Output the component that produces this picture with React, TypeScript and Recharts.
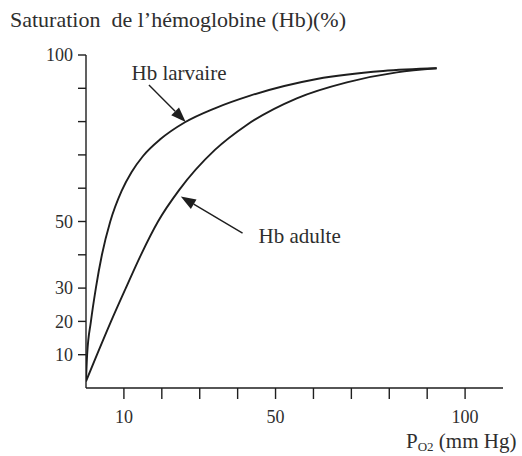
import React from 'react';
import { LineChart, Line, XAxis, YAxis, ReferenceLine, ReferenceDot } from 'recharts';

// PO2 (mm Hg) and saturation (%)
const po2Larvaire = [0, 0.3, 1.3, 2.6, 4.2, 6.4, 9.4, 12, 15, 19.5, 26.1, 34, 43.3, 60.9, 78.4, 92.5];
const satLarvaire = [2, 10, 20, 30, 40, 50, 59.2, 64.8, 69.6, 74.6, 79.8, 84, 87.8, 92.8, 95.2, 96];

const po2Adulte = [0, 2.9, 6.6, 10.5, 14.5, 19, 24.6, 34, 42.4, 55.6, 68.8, 82, 92.5];
const satAdulte = [2, 10, 20, 30, 40, 50, 59.5, 71.5, 79, 87, 91.8, 94.8, 96];

const xTicks = [10, 20, 30, 40, 50, 60, 70, 80, 90, 100];
const xLabels = [10, 50, 100];
const yTicks = [10, 20, 30, 40, 50, 60, 70, 80, 90, 100];
const yLabels = [10, 20, 30, 50, 100];

const larvaire = po2Larvaire.map((x, i) => ({ x, y: satLarvaire[i] }));
const adulte = po2Adulte.map((x, i) => ({ x, y: satAdulte[i] }));

const INK = '#1e1e1e';
const TEXT = '#2e2e2e';
const FONT = '"Liberation Serif", "Times New Roman", serif';

function Arrow(props: any) {
  const { x1, y1, x2, y2 } = props;
  const ang = Math.atan2(y2 - y1, x2 - x1);
  const len = 15;
  const half = 5.5;
  const bx = x2 - len * Math.cos(ang);
  const by = y2 - len * Math.sin(ang);
  const px = -Math.sin(ang) * half;
  const py = Math.cos(ang) * half;
  return (
    <g>
      <line x1={x1} y1={y1} x2={bx} y2={by} stroke={INK} strokeWidth={1.4} />
      <polygon points={`${x2},${y2} ${bx + px},${by + py} ${bx - px},${by - py}`} fill={INK} />
    </g>
  );
}

const textShape = (label: string) => (p: any) => (
  <text x={p.cx} y={p.cy} fontSize={21} fontFamily={FONT} fill={TEXT}>
    {label}
  </text>
);

export default function App() {
  return (
    <div style={{ position: 'absolute', left: 0, top: 0, width: 522, height: 456, background: '#fff' }}>
      <div
        style={{
          position: 'absolute', left: 10, top: 8, fontFamily: FONT, fontSize: 22,
          color: TEXT, whiteSpace: 'pre', lineHeight: '24px',
        }}
      >
        {'Saturation  de l\u2019hémoglobine (Hb)(%)'}
      </div>
      <LineChart
        width={522}
        height={456}
        margin={{ top: 55, right: 19, bottom: 28, left: 0 }}
        style={{ fontFamily: FONT }}
      >
        <XAxis
          type="number"
          dataKey="x"
          domain={[0, 110]}
          ticks={xTicks}
          interval={0}
          tickFormatter={(v: number) => (xLabels.includes(v) ? String(v) : '')}
          tick={{ fontSize: 18, fill: TEXT, fontFamily: FONT }}
          tickSize={11}
          tickMargin={11}
          height={40}
          axisLine={{ stroke: INK, strokeWidth: 1.4 }}
          tickLine={{ stroke: INK, strokeWidth: 1.4 }}
          allowDataOverflow
        />
        <YAxis
          type="number"
          dataKey="y"
          domain={[0, 100]}
          ticks={yTicks}
          interval={0}
          tickFormatter={(v: number) => (yLabels.includes(v) ? String(v) : '')}
          tick={{ fontSize: 18, fill: TEXT, fontFamily: FONT }}
          tickSize={8}
          tickMargin={5}
          width={86}
          axisLine={{ stroke: INK, strokeWidth: 1.4 }}
          tickLine={{ stroke: INK, strokeWidth: 1.4 }}
          allowDataOverflow
        />
        <Line
          data={larvaire}
          dataKey="y"
          type="monotone"
          stroke={INK}
          strokeWidth={1.9}
          dot={false}
          isAnimationActive={false}
        />
        <Line
          data={adulte}
          dataKey="y"
          type="monotone"
          stroke={INK}
          strokeWidth={1.9}
          dot={false}
          isAnimationActive={false}
        />
        <ReferenceLine segment={[{ x: 16.6, y: 91 }, { x: 26.3, y: 79.9 }]} shape={Arrow} />
        <ReferenceLine segment={[{ x: 41.3, y: 46.5 }, { x: 25, y: 57.5 }]} shape={Arrow} />
        <ReferenceDot x={12} y={92.5} r={0} shape={textShape('Hb larvaire')} />
        <ReferenceDot x={45.5} y={43.5} r={0} shape={textShape('Hb adulte')} />
      </LineChart>
      <div
        style={{
          position: 'absolute', left: 406, top: 429, fontFamily: FONT, fontSize: 21,
          color: TEXT, whiteSpace: 'pre', lineHeight: '24px',
        }}
      >
        P<sub style={{ fontSize: 13, verticalAlign: '-3px' }}>O2</sub> (mm Hg)
      </div>
    </div>
  );
}
